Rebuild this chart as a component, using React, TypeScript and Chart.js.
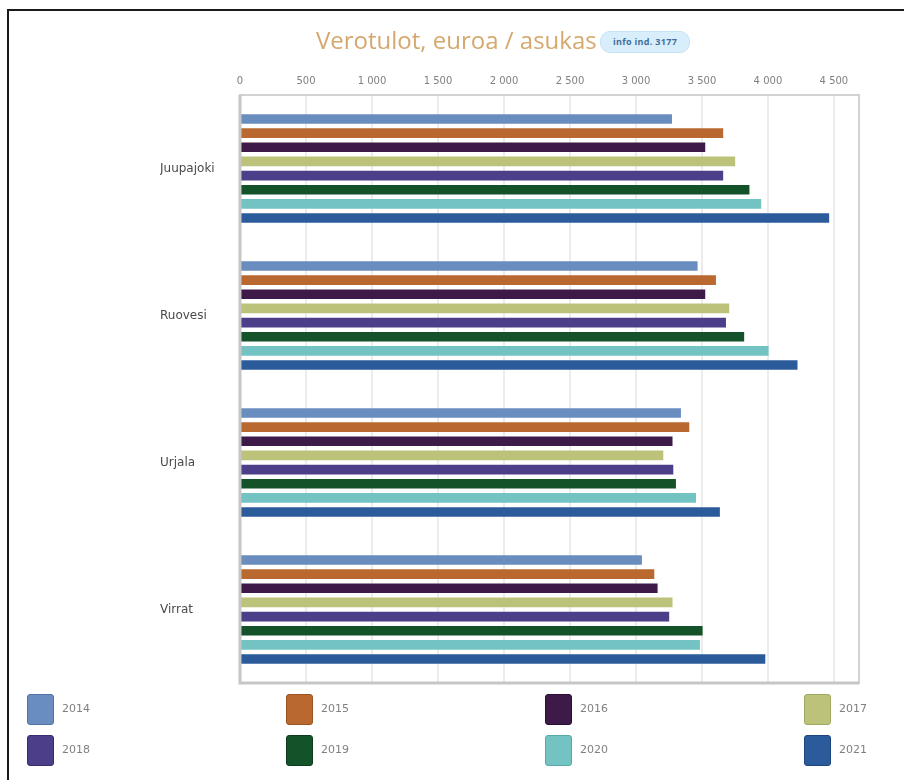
import React, { useEffect, useRef } from "react";
import { Chart, registerables } from "chart.js";
Chart.register(...registerables);

const categories = ["Juupajoki", "Ruovesi", "Urjala", "Virrat"];
const years = ["2014", "2015", "2016", "2017", "2018", "2019", "2020", "2021"];
const colors = ["#6a8dc0", "#b9692f", "#3e1a48", "#bcc27a", "#4d3e8a", "#14532a", "#72c3c2", "#2b5b9b"];
const borders = ["#4f73a6", "#9c5220", "#2a0e33", "#a0a862", "#382b70", "#0b3d1c", "#58a8a7", "#1c4680"];

const v2014 = [3273, 3467, 3341, 3045];
const v2015 = [3661, 3606, 3404, 3139];
const v2016 = [3525, 3525, 3277, 3164];
const v2017 = [3752, 3707, 3207, 3277];
const v2018 = [3661, 3682, 3283, 3252];
const v2019 = [3860, 3820, 3303, 3505];
const v2020 = [3949, 4005, 3455, 3485];
const v2021 = [4464, 4224, 3636, 3980];
const seriesValues = [v2014, v2015, v2016, v2017, v2018, v2019, v2020, v2021];

const xTicks = [0, 500, 1000, 1500, 2000, 2500, 3000, 3500, 4000, 4500];
const xMax = 4690;

const titleText = "Verotulot, euroa / asukas";
const badgeText = "info ind. 3177";

const fmt = (v: number) => String(v).replace(/\B(?=(\d{3})+(?!\d))/g, " ");

const framePlugin = {
  id: "plotFrame",
  afterDraw(chart: any) {
    const { ctx, chartArea: a } = chart;
    ctx.save();
    ctx.strokeStyle = "#d2d2d2";
    ctx.lineWidth = 2;
    ctx.strokeRect(a.left, a.top, a.right - a.left, a.bottom - a.top);
    ctx.strokeStyle = "#c6c6c6";
    ctx.lineWidth = 3;
    ctx.beginPath();
    ctx.moveTo(a.left, a.top);
    ctx.lineTo(a.left, a.bottom);
    ctx.lineTo(a.right, a.bottom);
    ctx.stroke();
    ctx.restore();
  },
};

function BarChart() {
  const ref = useRef<HTMLCanvasElement | null>(null);
  useEffect(() => {
    if (!ref.current) return;
    const chart = new Chart(ref.current, {
      type: "bar",
      data: {
        labels: categories,
        datasets: years.map((y, i) => ({
          label: y,
          data: seriesValues[i],
          backgroundColor: colors[i],
          borderColor: borders[i],
          borderWidth: 0,
          categoryPercentage: 0.77,
          barPercentage: 0.68,
        })),
      },
      options: {
        indexAxis: "y",
        responsive: false,
        devicePixelRatio: 1,
        animation: false,
        layout: { padding: { left: 160, right: 45, top: 60, bottom: 17 } },
        plugins: { legend: { display: false }, title: { display: false }, tooltip: { enabled: false } },
        scales: {
          x: {
            position: "top",
            min: 0,
            max: xMax,
            afterBuildTicks: (scale: any) => {
              scale.ticks = xTicks.map((v) => ({ value: v }));
            },
            afterFit: (scale: any) => {
              scale.height = 35;
            },
            grid: { color: "#ececec", lineWidth: 2, drawTicks: false },
            border: { display: false },
            ticks: {
              color: "#808080",
              padding: 8,
              maxRotation: 0,
              font: { family: "'DejaVu Sans'", size: 10 },
              callback: (v: any) => fmt(Number(v)),
            },
          },
          y: {
            afterFit: (scale: any) => {
              scale.width = 80;
            },
            grid: { display: false, drawTicks: false },
            border: { display: false },
            ticks: {
              color: "#4a4a4a",
              padding: 0,
              crossAlign: "far",
              font: { family: "'DejaVu Sans'", size: 12 },
            },
          },
        },
      },
      plugins: [framePlugin],
    } as any);
    return () => chart.destroy();
  }, []);
  return <canvas ref={ref} width={904} height={700} style={{ position: "absolute", left: 0, top: 0, width: 904, height: 700 }} />;
}

const legendCols = [27, 286, 545, 804];

export default function App() {
  return (
    <div style={{ position: "fixed", left: 0, top: 0, width: 904, height: 780, background: "#fff", overflow: "hidden", fontFamily: "'Open Sans', sans-serif" }}>
      <div style={{ position: "absolute", left: 7, top: 9, width: 897, height: 771, borderLeft: "2px solid #1a1a1a", borderTop: "2px solid #1a1a1a", boxSizing: "border-box" }} />
      <BarChart />
      <div style={{ position: "absolute", left: 0, top: 22, width: 904, height: 36, pointerEvents: "none" }}>
        <span style={{ position: "absolute", left: 316, top: 0, fontSize: 24, lineHeight: "36px", color: "#d4a86e", whiteSpace: "nowrap" }}>{titleText}</span>
        <span style={{ position: "absolute", left: 600, top: 9, height: 20, lineHeight: "20px", padding: "0 12px", borderRadius: 10, background: "#d9eefb", border: "1px solid #c6e2f5", color: "#3f6f9e", fontSize: 9, fontWeight: 700, letterSpacing: 0.3, whiteSpace: "nowrap" }}>{badgeText}</span>
      </div>
      {years.map((y, i) => {
        const col = i % 4;
        const row = Math.floor(i / 4);
        const top = 694 + row * 41;
        return (
          <div key={y} style={{ position: "absolute", left: legendCols[col], top, height: 31 }}>
            <div style={{ position: "absolute", left: 0, top: 0, width: 25, height: 29, background: colors[i], border: `1.5px solid ${borders[i]}`, borderRadius: 3 }} />
            <span style={{ position: "absolute", left: 35, top: 8, fontSize: 11, fontFamily: "'DejaVu Sans'", color: "#808080", whiteSpace: "nowrap" }}>{y}</span>
          </div>
        );
      })}
    </div>
  );
}
